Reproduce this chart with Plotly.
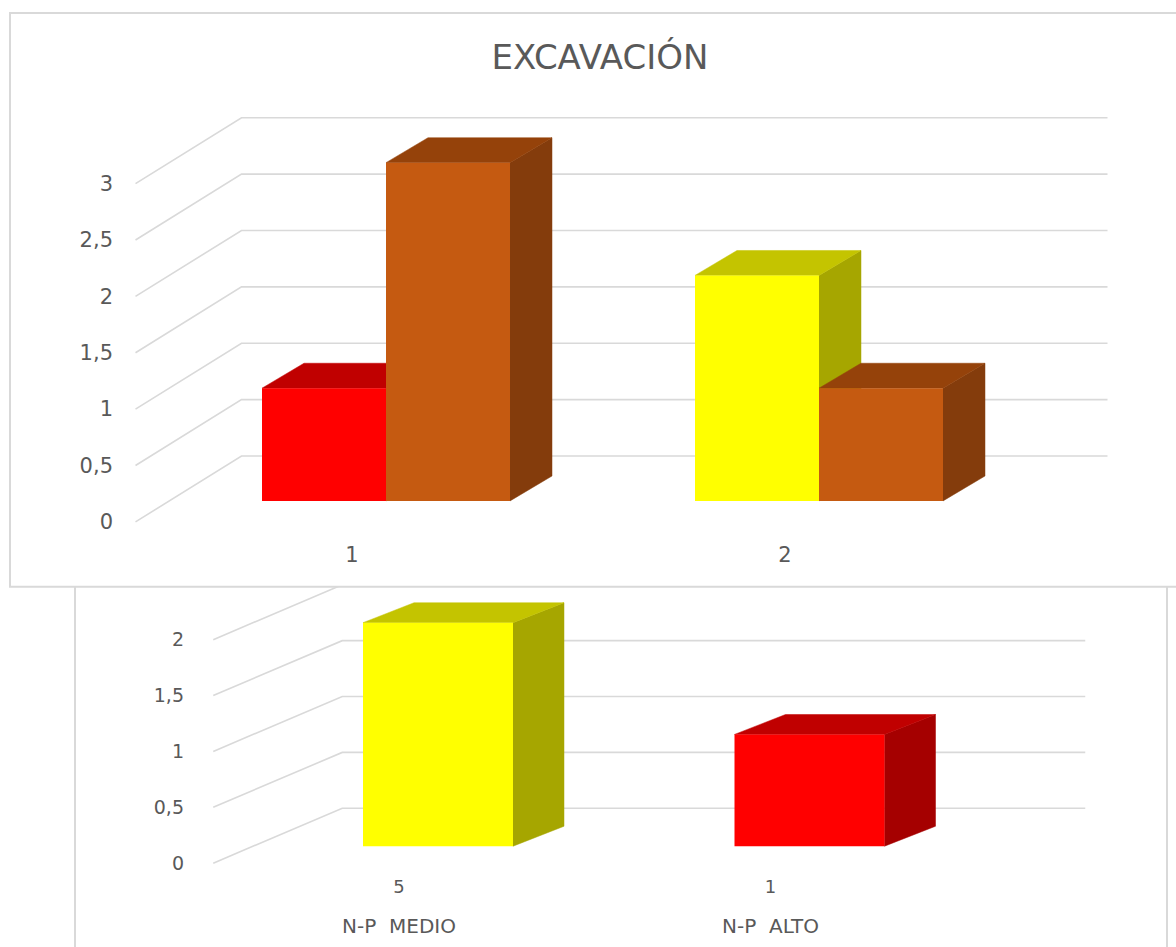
import plotly.graph_objects as go

# ---------------- data ----------------
TITLE = "EXCAVACIÓN"

TOP_CATEGORIES = ["1", "2"]
TOP_SERIES_1 = [1, 2]
TOP_SERIES_2 = [3, 1]
TOP_YTICKS = [0, 0.5, 1, 1.5, 2, 2.5, 3]
TOP_YTICK_LABELS = ["0", "0,5", "1", "1,5", "2", "2,5", "3"]

BOTTOM_CATEGORIES = ["5", "1"]
BOTTOM_GROUPS = ["N-P\u00a0\u00a0MEDIO", "N-P\u00a0\u00a0ALTO"]
BOTTOM_VALUES = [2, 1]
BOTTOM_YTICKS = [0, 0.5, 1, 1.5, 2]
BOTTOM_YTICK_LABELS = ["0", "0,5", "1", "1,5", "2"]

# ---------------- style ----------------
W, H = 1176, 947
RED, YELLOW, ORANGE = "#FF0000", "#FFFF00", "#C55A11"
SHADES = {  # front colour -> (top face, side face)
    RED: ("#C00000", "#A50000"),
    YELLOW: ("#C4C400", "#A6A600"),
    ORANGE: ("#95420A", "#843C0C"),
}
TOP_SERIES_1_COLORS = [RED, YELLOW]
TOP_SERIES_2_COLORS = [ORANGE, ORANGE]
BOTTOM_COLORS = [YELLOW, RED]
GRID = "#D9D9D9"
TEXT = "#595959"
FONT = "DejaVu Sans"

# geometry of each panel in pixels (layout, not data)
TOP_GEO = dict(px_x=(128, 1176), px_y=(100, 540), cat_px=352, unit_x=433,
               zero_px=523, unit_v=113, front=(34, 21), depth=(42, 25),
               wall=(106, 66), bar_px=124)
BOT_GEO = dict(px_x=(203, 1167), px_y=(588, 874), cat_px=399, unit_x=371.5,
               zero_px=865, unit_v=112, front=(39, 17), depth=(51, 20),
               wall=(129, 55), bar_px=150)


def ranges(g):
    xr = [1 + (g["px_x"][0] - g["cat_px"]) / g["unit_x"],
          1 + (g["px_x"][1] - g["cat_px"]) / g["unit_x"]]
    yr = [(g["zero_px"] - g["px_y"][1]) / g["unit_v"],
          (g["zero_px"] - g["px_y"][0]) / g["unit_v"]]
    xd = [g["px_x"][0] / W, min(1.0, g["px_x"][1] / W)]
    yd = [1 - g["px_y"][1] / H, 1 - g["px_y"][0] / H]
    return xr, yr, xd, yd


def shift(g, key):
    px, py = g[key]
    return px / g["unit_x"], py / g["unit_v"]


fig = go.Figure()


def add_panel(g, series, colors, n_cat, yticks, xa, ya, xo, yo):
    fx, fv = shift(g, "front")
    bx, bv = shift(g, "depth")
    wx, wv = shift(g, "wall")
    bw = g["bar_px"] / g["unit_x"]
    n = len(series)
    # back wall gridlines (slanted side + horizontal back)
    gx, gy = [], []
    x_left, x_right = 0.5, n_cat + 0.5
    for t in yticks:
        gx += [x_left, x_left + wx, x_right + wx, None]
        gy += [t, t + wv, t + wv, None]
    fig.add_trace(go.Scatter(x=gx, y=gy, mode="lines", line=dict(color=GRID, width=1.6),
                             xaxis=xa, yaxis=ya, hoverinfo="skip", showlegend=False))
    # 3D faces, painted left to right
    for ci in range(n_cat):
        for si, vals in enumerate(series):
            v = vals[ci]
            col = colors[si][ci]
            top_c, side_c = SHADES[col]
            c = (ci + 1) + (si - (n - 1) / 2) * bw
            x0, x1 = c - bw / 2 + fx, c + bw / 2 + fx
            side_x = [x1, x1, x1 + bx, x1 + bx, x1]
            side_y = [fv, v + fv, v + fv + bv, fv + bv, fv]
            fig.add_trace(go.Scatter(x=side_x, y=side_y, mode="lines", fill="toself",
                                     fillcolor=side_c, line=dict(color=side_c, width=0.5),
                                     xaxis=xa, yaxis=ya, hoverinfo="skip", showlegend=False))
            top_x = [x0, x1, x1 + bx, x0 + bx, x0]
            top_y = [v + fv, v + fv, v + fv + bv, v + fv + bv, v + fv]
            fig.add_trace(go.Scatter(x=top_x, y=top_y, mode="lines", fill="toself",
                                     fillcolor=top_c, line=dict(color=top_c, width=0.5),
                                     xaxis=xa, yaxis=ya, hoverinfo="skip", showlegend=False))
    # front faces as real bars on the overlay axes
    for si, vals in enumerate(series):
        xs = [(ci + 1) + (si - (n - 1) / 2) * bw + fx for ci in range(n_cat)]
        fig.add_trace(go.Bar(x=xs, y=vals, base=[fv] * n_cat, width=[bw] * n_cat,
                             marker=dict(color=colors[si], line=dict(width=0)),
                             xaxis=xo, yaxis=yo, showlegend=False, hoverinfo="y"))


add_panel(TOP_GEO, [TOP_SERIES_1, TOP_SERIES_2], [TOP_SERIES_1_COLORS, TOP_SERIES_2_COLORS],
          len(TOP_CATEGORIES), TOP_YTICKS, "x", "y", "x3", "y3")
add_panel(BOT_GEO, [BOTTOM_VALUES], [BOTTOM_COLORS],
          len(BOTTOM_CATEGORIES), BOTTOM_YTICKS, "x2", "y2", "x4", "y4")

txr, tyr, txd, tyd = ranges(TOP_GEO)
bxr, byr, bxd, byd = ranges(BOT_GEO)

common = dict(showgrid=False, zeroline=False, showline=False, ticks="", fixedrange=True)

fig.update_layout(
    width=W, height=H, margin=dict(l=0, r=0, t=0, b=0),
    paper_bgcolor="white", plot_bgcolor="rgba(0,0,0,0)",
    barmode="overlay", separators=",.", showlegend=False,
    title=dict(text=TITLE, x=600 / W, y=1 - 57 / H, xanchor="center", yanchor="middle",
               font=dict(family=FONT, size=34, color=TEXT)),
    xaxis=dict(domain=txd, range=txr, anchor="y", tickvals=[1, 2], ticktext=TOP_CATEGORIES,
               tickfont=dict(family=FONT, size=21, color=TEXT), ticklabelstandoff=1, **common),
    yaxis=dict(domain=tyd, range=tyr, anchor="x", tickvals=TOP_YTICKS, ticktext=TOP_YTICK_LABELS,
               tickfont=dict(family=FONT, size=21, color=TEXT), ticklabelstandoff=14, **common),
    xaxis3=dict(domain=txd, range=txr, overlaying="x", anchor="y3", visible=False, **common),
    yaxis3=dict(domain=tyd, range=tyr, overlaying="y", anchor="x3", visible=False, **common),
    xaxis2=dict(domain=bxd, range=bxr, anchor="y2", tickvals=[1, 2], ticktext=BOTTOM_CATEGORIES,
                tickfont=dict(family=FONT, size=18, color=TEXT), ticklabelstandoff=2, **common),
    yaxis2=dict(domain=byd, range=byr, anchor="x2", tickvals=BOTTOM_YTICKS, ticktext=BOTTOM_YTICK_LABELS,
                tickfont=dict(family=FONT, size=19, color=TEXT), ticklabelstandoff=18, **common),
    xaxis4=dict(domain=bxd, range=bxr, overlaying="x2", anchor="y4", tickvals=[1, 2],
                ticktext=BOTTOM_GROUPS, tickfont=dict(family=FONT, size=20, color=TEXT),
                ticklabelstandoff=40, **common),
    yaxis4=dict(domain=byd, range=byr, overlaying="y2", anchor="x4", visible=False, **common),
)

# chart frames (Excel chart-area borders)
frame = dict(color=GRID, width=2)
fig.add_shape(type="rect", xref="paper", yref="paper", x0=10 / W, x1=1.02,
              y0=1 - 588 / H, y1=1 - 13 / H, line=frame, layer="below")
fig.add_shape(type="line", xref="paper", yref="paper", x0=75 / W, x1=75 / W,
              y0=1 - 588 / H, y1=-0.02, line=frame, layer="below")
fig.add_shape(type="line", xref="paper", yref="paper", x0=1167 / W, x1=1167 / W,
              y0=1 - 588 / H, y1=-0.02, line=frame, layer="below")

fig.write_html("out.html")
